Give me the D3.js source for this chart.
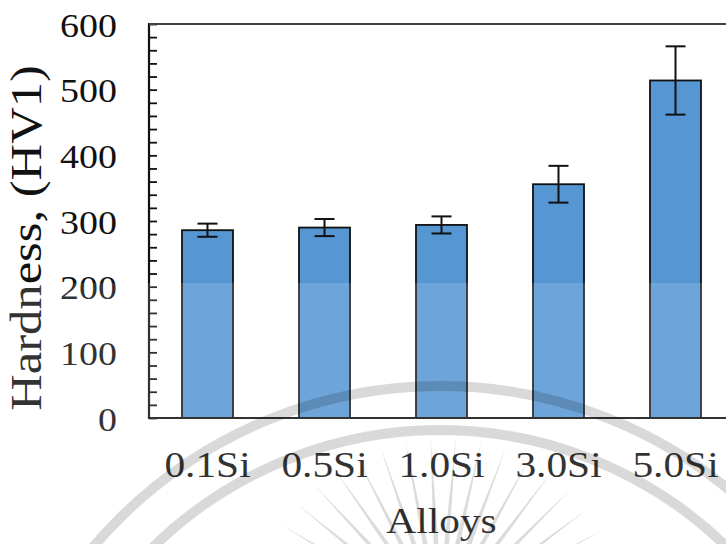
<!DOCTYPE html>
<html>
<head>
<meta charset="utf-8">
<script src="https://cdn.jsdelivr.net/npm/d3@7/dist/d3.min.js"></script>
<style>
  html, body { margin: 0; padding: 0; background: #fff; }
  svg { display: block; }
  text { font-family: "Liberation Serif", "Times New Roman", serif; fill: #111; }
</style>
</head>
<body>
<svg id="chart" width="726" height="544"></svg>
<script>
// Vickers hardness of the Si alloys
const alloys = ["0.1Si", "0.5Si", "1.0Si", "3.0Si", "5.0Si"];
const hardness = [286, 290, 294, 356, 514];
const hardnessErr = [10, 13, 13, 28, 52];
const yTicks = [0, 100, 200, 300, 400, 500, 600];

const svg = d3.select("#chart");
const plotL = 149, plotR = 734, plotT = 24, plotB = 418;

const x = d3.scaleBand().domain(alloys).range([plotL, plotR])
  .paddingInner(0.564).paddingOuter(0.282);
const y = d3.scaleLinear().domain([0, 600]).range([plotB, plotT]);

const g = svg.append("g");

// bars
g.selectAll("rect.bar").data(alloys).join("rect")
  .attr("class", "bar")
  .attr("x", d => x(d))
  .attr("y", (d, i) => y(hardness[i]))
  .attr("width", x.bandwidth())
  .attr("height", (d, i) => y(0) - y(hardness[i]))
  .attr("fill", "#5596d3")
  .attr("stroke", "#111")
  .attr("stroke-width", 1.8);

// error bars
const eb = g.selectAll("g.err").data(alloys).join("g").attr("class", "err")
  .attr("transform", d => `translate(${x(d) + x.bandwidth() / 2},0)`)
  .attr("stroke", "#111").attr("stroke-width", 2);
eb.append("line").attr("x1", 0).attr("x2", 0)
  .attr("y1", (d, i) => y(hardness[i] + hardnessErr[i]))
  .attr("y2", (d, i) => y(hardness[i] - hardnessErr[i]));
eb.append("line").attr("x1", -10).attr("x2", 10)
  .attr("y1", (d, i) => y(hardness[i] + hardnessErr[i]))
  .attr("y2", (d, i) => y(hardness[i] + hardnessErr[i]));
eb.append("line").attr("x1", -10).attr("x2", 10)
  .attr("y1", (d, i) => y(hardness[i] - hardnessErr[i]))
  .attr("y2", (d, i) => y(hardness[i] - hardnessErr[i]));

// y axis: inward ticks every 20, labels every 100
const yAxis = d3.axisRight(y).tickValues(d3.range(0, 601, 20)).tickSize(8).tickFormat("");
const ya = g.append("g").attr("transform", `translate(${plotL},0)`).call(yAxis);
ya.select(".domain").remove();
ya.selectAll(".tick line").attr("stroke", "#111").attr("stroke-width", 1.8);

g.append("line").attr("x1", plotL).attr("x2", plotL).attr("y1", plotT - 1).attr("y2", plotB + 1)
  .attr("stroke", "#111").attr("stroke-width", 2.2);
g.append("line").attr("x1", plotL).attr("x2", plotR).attr("y1", plotB).attr("y2", plotB)
  .attr("stroke", "#111").attr("stroke-width", 2.2);
g.append("line").attr("x1", plotL).attr("x2", plotR).attr("y1", plotT).attr("y2", plotT)
  .attr("stroke", "#444").attr("stroke-width", 2);

// y tick labels
g.selectAll("text.ylab").data(yTicks).join("text")
  .attr("class", "ylab")
  .attr("transform", d => `translate(117,${y(d) + 12.5}) scale(1.15,1)`)
  .attr("text-anchor", "end")
  .attr("font-size", 33)
  .text(d => d);

// x tick labels
g.selectAll("text.xlab").data(alloys).join("text")
  .attr("class", "xlab")
  .attr("transform", d => `translate(${x(d) + x.bandwidth() / 2},477) scale(1.15,1)`)
  .attr("text-anchor", "middle")
  .attr("font-size", 36)
  .text(d => d);

// axis titles
g.append("text")
  .attr("transform", `translate(${(plotL + plotR) / 2},533) scale(1.15,1)`)
  .attr("text-anchor", "middle").attr("font-size", 36).text("Alloys");
g.append("text")
  .attr("transform", "translate(41,238) rotate(-90) scale(1.15,1)")
  .attr("text-anchor", "middle").attr("font-size", 44).text("Hardness, (HV1)");

// faint seal watermark over the lower part of the figure
const wm = svg.append("g");
wm.append("rect").attr("x", 0).attr("y", 283).attr("width", 726).attr("height", 261)
  .attr("fill", "#fff").attr("opacity", 0.14);
const cx = 440, cy = 840;
[454, 410].forEach(r => {
  wm.append("circle").attr("cx", cx).attr("cy", cy).attr("r", r)
    .attr("fill", "none").attr("stroke", "#000").attr("stroke-opacity", 0.15)
    .attr("stroke-width", 10);
});
const rayAngles = d3.range(-165, -14, 8);
wm.selectAll("path.ray").data(rayAngles).join("path")
  .attr("class", "ray")
  .attr("d", a => {
    const t = a * Math.PI / 180, ox = 440, oy = 620;
    const r0 = 75, r1 = 185, w = 2.4;
    const nx = -Math.sin(t) * w, ny = Math.cos(t) * w;
    const x0 = ox + Math.cos(t) * r0, y0 = oy + Math.sin(t) * r0;
    const x1 = ox + Math.cos(t) * r1, y1 = oy + Math.sin(t) * r1;
    return `M${x0 - nx},${y0 - ny}L${x1},${y1}L${x0 + nx},${y0 + ny}Z`;
  })
  .attr("fill", "#000").attr("fill-opacity", 0.14);
</script>
</body>
</html>
